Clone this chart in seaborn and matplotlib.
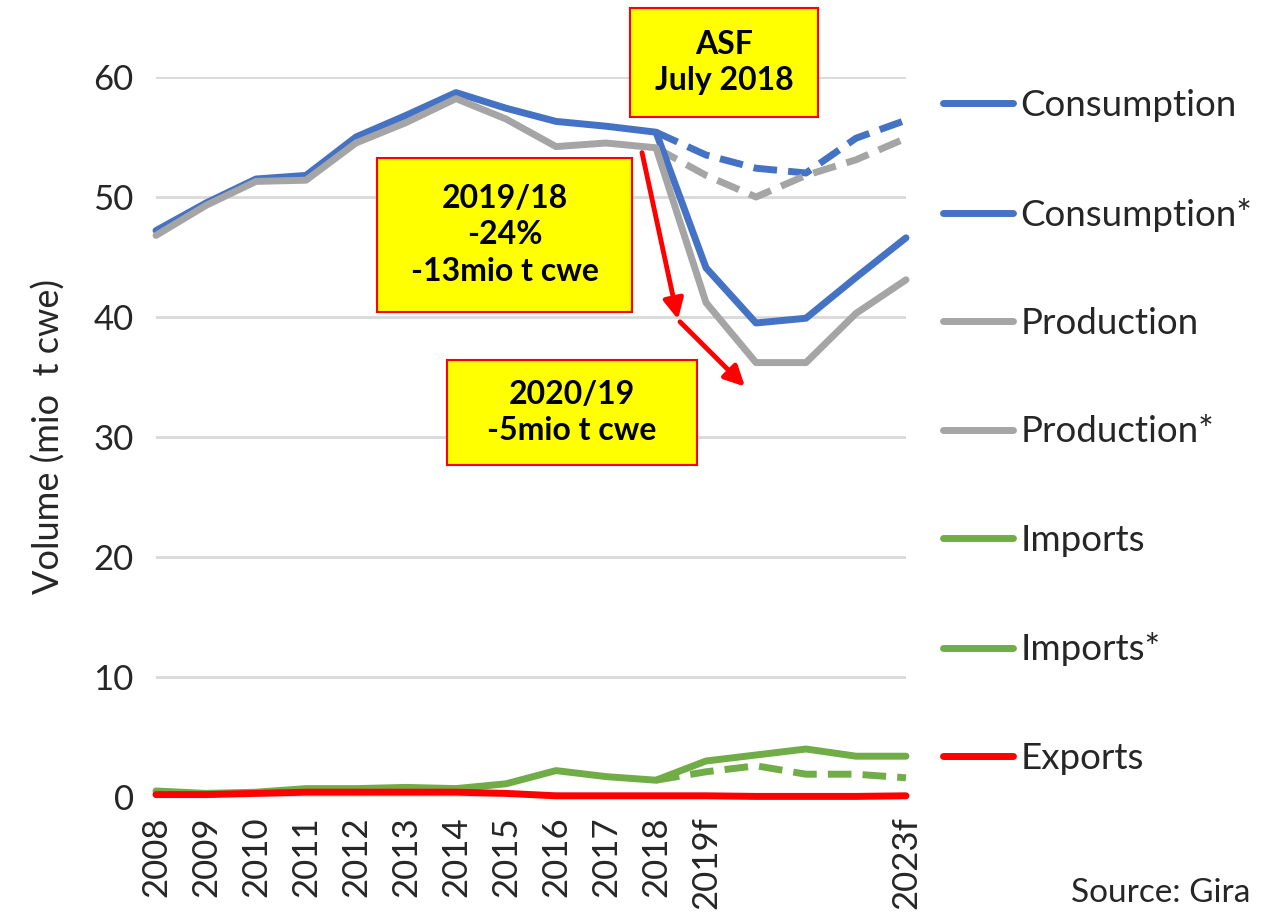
import matplotlib
matplotlib.use("Agg")
import matplotlib.pyplot as plt
import seaborn as sns
import numpy as np
import pandas as pd
from matplotlib.lines import Line2D
from matplotlib.patches import Rectangle

# data (mio t cwe)
years = list(range(2008, 2024))
tick_labels = ["2008", "2009", "2010", "2011", "2012", "2013", "2014", "2015",
               "2016", "2017", "2018", "2019f", "", "", "", "2023f"]

consumption = [47.2, 49.5, 51.5, 51.8, 55.0, 56.8, 58.7, 57.4, 56.3, 55.9, 55.4,
               44.1, 39.5, 39.9, 43.3, 46.6]
production = [46.8, 49.3, 51.3, 51.4, 54.5, 56.2, 58.2, 56.5, 54.2, 54.5, 54.1,
              41.2, 36.2, 36.2, 40.3, 43.1]
imports = [0.5, 0.3, 0.4, 0.7, 0.7, 0.8, 0.7, 1.1, 2.2, 1.7, 1.4,
           3.0, 3.5, 4.0, 3.4, 3.4]
exports = [0.2, 0.2, 0.3, 0.4, 0.4, 0.4, 0.4, 0.3, 0.1, 0.1, 0.1,
           0.1, 0.05, 0.05, 0.05, 0.1]

# pre-ASF forecasts, from 2018 on
fc_years = [2018, 2019, 2020, 2021, 2022, 2023]
consumption_fc = [55.4, 53.5, 52.4, 52.0, 54.9, 56.4]
production_fc = [54.1, 51.8, 50.0, 51.8, 53.1, 54.9]
imports_fc = [1.4, 2.1, 2.6, 1.9, 1.9, 1.6]

BLUE = "#4472c4"
GREY = "#a5a5a5"
GREEN = "#70ad47"
RED = "#ff0000"

sns.set_theme(style="white")
plt.rcParams["font.family"] = ["Lato", "DejaVu Sans"]

W, H = 1261, 919
fig = plt.figure(figsize=(W / 100, H / 100), dpi=100)
ax = fig.add_axes([156 / W, (H - 797) / H, (906 - 156) / W, (797 - 77) / H])

LW = 5
series = [
    ("Consumption", years, consumption, BLUE, False),
    ("Consumption*", fc_years, consumption_fc, BLUE, True),
    ("Production", years, production, GREY, False),
    ("Production*", fc_years, production_fc, GREY, True),
    ("Imports", years, imports, GREEN, False),
    ("Imports*", fc_years, imports_fc, GREEN, True),
    ("Exports", years, exports, RED, False),
]
# draw order: forecasts behind actuals
for name, xs, ys, col, dashed in [series[i] for i in (1, 3, 5, 0, 2, 4, 6)]:
    sns.lineplot(x=xs, y=ys, ax=ax, color=col, linewidth=LW, legend=False)
    line = ax.lines[-1]
    line.set_clip_on(False)
    line.set_solid_joinstyle("round")
    if dashed:
        line.set_dashes((3.4, 1.6))
        line.set_dash_joinstyle("round")

ax.set_xlim(2008, 2023)
ax.set_ylim(0, 60)
ax.set_yticks(range(0, 61, 10))
ax.set_xticks(years)
ax.set_xticklabels(tick_labels, rotation=90, fontsize=25, color="#262626")
ax.tick_params(axis="y", labelsize=25, labelcolor="#262626", pad=16, length=0)
ax.tick_params(axis="x", pad=14, length=0)
ax.grid(axis="y", color="#d9d9d9", linewidth=2)
ax.set_axisbelow(True)
for s in ax.spines.values():
    s.set_visible(False)
ax.set_ylabel("Volume (mio  t cwe)", fontsize=26, color="#262626", labelpad=20)
ax.set_xlabel("")

# red arrows
arr = dict(arrowstyle="-|>,head_length=1.0,head_width=0.5", color=RED, lw=3.5,
           shrinkA=0, shrinkB=0)
ax.annotate("", xy=(2018.44, 39.8), xytext=(2017.72, 53.7), arrowprops=arr,
            annotation_clip=False)
ax.annotate("", xy=(2019.78, 34.2), xytext=(2018.48, 39.6), arrowprops=arr,
            annotation_clip=False)


# yellow boxes (pixel geometry -> figure fraction)
def box(x0, y0, x1, y1, text):
    fig.patches.append(Rectangle((x0 / W, 1 - y1 / H), (x1 - x0) / W, (y1 - y0) / H,
                                 transform=fig.transFigure, facecolor="#ffff00",
                                 edgecolor=RED, linewidth=1.5, zorder=5))
    fig.text((x0 + x1) / 2 / W, 1 - (y0 + y1) / 2 / H, text, ha="center", va="center",
             fontsize=23, fontweight="bold", color="black", linespacing=1.3, zorder=6)


box(630, 8, 818, 117, "ASF\nJuly 2018")
box(377, 158, 632, 312, "2019/18\n-24%\n-13mio t cwe")
box(447, 360, 697, 465, "2020/19\n-5mio t cwe")

handles = [Line2D([], [], color=c, linewidth=LW, solid_capstyle="round") for _, _, _, c, _ in series]
labels = [n for n, _, _, _, _ in series]
fig.legend(handles, labels, loc="upper left", bbox_to_anchor=(910 / W, 1 - 56 / H),
           frameon=False, fontsize=26.5, handlelength=1.9, handletextpad=0.2,
           labelspacing=2.05, labelcolor="#262626")

fig.text(1250 / W, 1 - 893 / H, "Source: Gira", ha="right", va="center",
         fontsize=24, color="#262626")

fig.savefig("out.png", dpi=100)
